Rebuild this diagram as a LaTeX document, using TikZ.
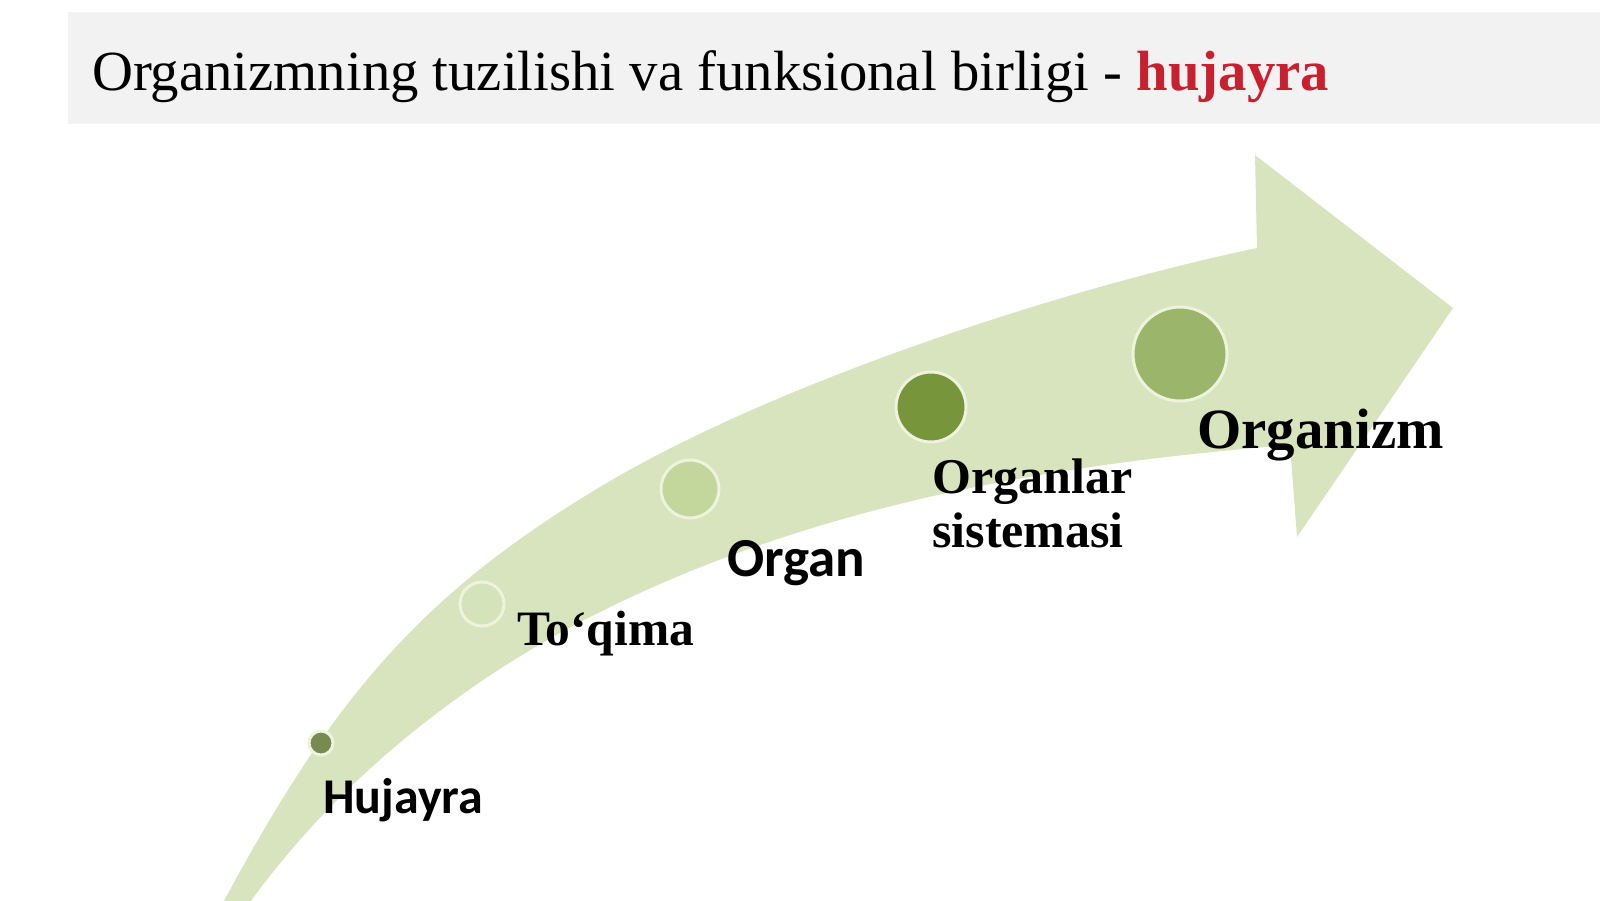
\documentclass[tikz,border=0pt]{standalone}
\usepackage{fontspec}
\setmainfont{Liberation Serif}
\newfontfamily\calibrifont{Carlito}
\usepackage{tikz}
\usetikzlibrary{positioning}

\definecolor{headergray}{HTML}{F2F2F2}
\definecolor{titlered}{HTML}{C8202E}
\definecolor{bandgreen}{HTML}{D7E4BD}
\definecolor{rimgreen}{HTML}{EDF3DC}
\definecolor{cellgreen}{HTML}{788A50}
\definecolor{tissuegreen}{HTML}{D5E3BA}
\definecolor{organgreen}{HTML}{C3D69B}
\definecolor{systemgreen}{HTML}{77963B}
\definecolor{bodygreen}{HTML}{9BB56A}

\tikzset{
  leveldot/.style={circle, draw=rimgreen, line width=3pt, inner sep=0pt},
  seriflabel/.style={anchor=base west, inner sep=0pt, font=\bfseries\fontsize{50}{54}\selectfont},
  sanslabel/.style={anchor=base west, inner sep=0pt, font=\calibrifont\bfseries\fontsize{52}{56}\selectfont},
}

\begin{document}
\begin{tikzpicture}[x=1pt,y=-1pt]
  \useasboundingbox (0,0) rectangle (1600,900);
  % header band
  \fill [headergray] (68,12) rectangle (1600,124);
  \node [anchor=base west, inner sep=0pt, font=\fontsize{56.7}{60}\selectfont] (title) at (92,90)
    {Organizmning tuzilishi va funksional birligi - \textcolor{titlered}{\bfseries hujayra}};
  % curved arrow
  \fill [bandgreen] (218,912) .. controls (326,710) and (411,600) .. (600,487)
    .. controls (771,384) and (1061,289) .. (1257,248)
    -- (1255,155) -- (1453,308) -- (1297,537) -- (1290,445)
    .. controls (1050,464) and (815,505) .. (600,612)
    .. controls (461,681) and (332,785) .. (243,912) -- cycle;
  % levels
  \node [leveldot, fill=cellgreen, minimum size=24pt] (hujayra) at (321,743) {};
  \node [leveldot, fill=tissuegreen, minimum size=44pt] (toqima) at (482,604) {};
  \node [leveldot, fill=organgreen, minimum size=58pt] (organ) at (690,489) {};
  \node [leveldot, fill=systemgreen, minimum size=70pt] (tizim) at (931,407) {};
  \node [leveldot, fill=bodygreen, minimum size=94pt] (organizm) at (1180,354) {};
  % labels
  \node [sanslabel, font=\calibrifont\bfseries\fontsize{50}{54}\selectfont] (hujayraText) at (323,813) {Hujayra};
  \node [seriflabel, font=\bfseries\fontsize{49.5}{52}\selectfont] (toqimaText) at (517,645) {To‘qima};
  \node [sanslabel, font=\calibrifont\bfseries\fontsize{55}{58}\selectfont] (organText) at (727,576) {Organ};
  \node [seriflabel, align=left] (tizimText) at (932,547) {Organlar\\sistemasi};
  \node [seriflabel, font=\bfseries\fontsize{56.9}{60}\selectfont] (organizmText) at (1197,448) {Organizm};
\end{tikzpicture}
\end{document}
